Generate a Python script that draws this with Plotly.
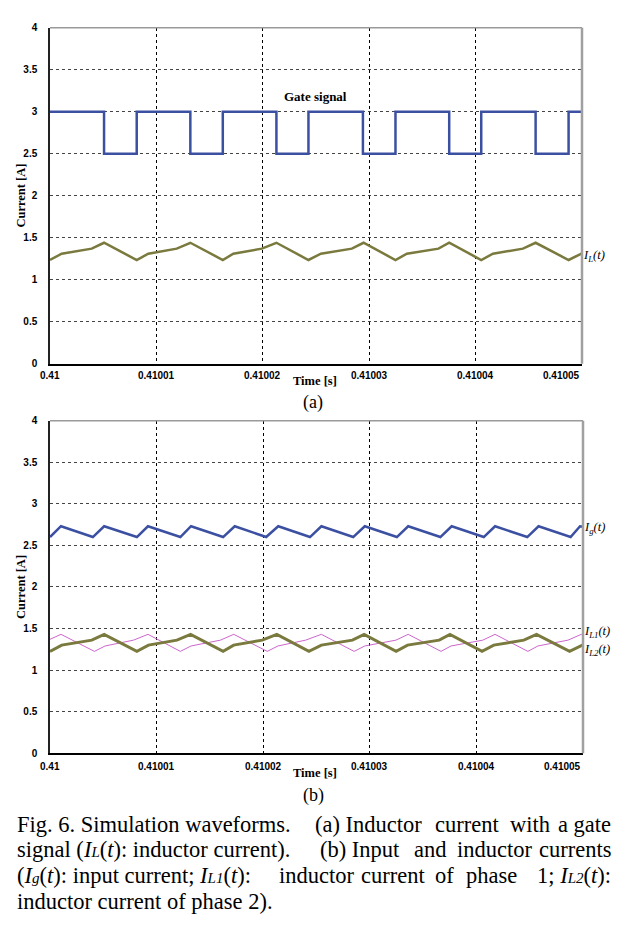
import plotly.graph_objects as go

# ---------------- data (time offsets in microseconds from 0.41 s) ----------------
gate_t_us = [0, 5.08, 8.15, 13.19, 16.24, 21.28, 24.29, 29.41, 32.47, 37.52, 40.53, 45.64, 48.74, 50.0]
gate_val = [3, 2.5, 3, 2.5, 3, 2.5, 3, 2.5, 3, 2.5, 3, 2.5, 3, 3]

il_t_us = [0, 1.10, 3.92, 5.08, 8.15, 9.24, 11.91, 13.19, 16.24, 17.23, 19.91, 21.28,
           24.29, 25.46, 28.37, 29.47, 32.47, 33.54, 36.51, 37.52, 40.53, 41.63, 44.45,
           45.64, 48.74, 49.85, 50.0]
il_top_val = [1.235, 1.31, 1.37, 1.44, 1.235, 1.31, 1.37, 1.44, 1.235, 1.31, 1.37, 1.44,
              1.235, 1.31, 1.37, 1.44, 1.235, 1.31, 1.37, 1.44, 1.235, 1.31, 1.37, 1.44,
              1.235, 1.31, 1.315]
il2_val = [1.225, 1.30, 1.36, 1.43, 1.225, 1.30, 1.36, 1.43, 1.225, 1.30, 1.36, 1.43,
           1.225, 1.30, 1.36, 1.43, 1.225, 1.30, 1.36, 1.43, 1.225, 1.30, 1.36, 1.43,
           1.225, 1.30, 1.305]

il1_t_us = [0, 1.03, 4.17, 5.17, 7.83, 9.19, 12.23, 13.23, 15.99, 17.24, 20.38, 21.38,
            23.98, 25.46, 28.53, 29.53, 32.45, 33.60, 36.68, 37.62, 40.60, 41.75, 44.83,
            45.77, 48.59, 49.84, 50.0]
il1_val = [1.37, 1.43, 1.225, 1.29, 1.36, 1.43, 1.225, 1.29, 1.36, 1.43, 1.225, 1.29,
           1.36, 1.43, 1.225, 1.29, 1.36, 1.43, 1.225, 1.29, 1.36, 1.43, 1.225, 1.29,
           1.36, 1.43, 1.42]

ig_t_us = [0, 1.03, 4.02, 5.08, 8.15, 9.19, 12.23, 13.23, 16.24, 17.33, 20.28, 21.41,
           24.39, 25.46, 28.44, 29.53, 32.54, 33.60, 36.62, 37.68, 40.69, 41.75, 44.77,
           45.83, 48.84, 49.72, 50.0]
ig_val = [2.60, 2.73, 2.60, 2.73, 2.60, 2.73, 2.60, 2.73, 2.60, 2.73, 2.60, 2.73,
          2.60, 2.73, 2.60, 2.73, 2.60, 2.73, 2.60, 2.73, 2.60, 2.73, 2.60, 2.73,
          2.60, 2.73, 2.725]

x_tick_vals = [0.41, 0.41001, 0.41002, 0.41003, 0.41004, 0.41005]
x_tick_text = ["0.41", "0.41001", "0.41002", "0.41003", "0.41004", "0.41005"]
y_tick_vals = [0, 0.5, 1, 1.5, 2, 2.5, 3, 3.5, 4]
y_tick_text = ["0", "0.5", "1", "1.5", "2", "2.5", "3", "3.5", "4"]

T0 = 0.41
def to_s(us):
    return [T0 + u * 1e-6 for u in us]

BLUE = "#3C50A2"
OLIVE = "#7A7A3E"
PINK = "#CC66CC"
SERIF = "Times New Roman, Liberation Serif, serif"
SANS = "Arial, Liberation Sans, sans-serif"

# page body has an 8px default margin: the figure starts at (8, 8) of the window
OFF = 8
W, H = 610, 921
def px(p):
    return (p - OFF) / W
def py(p):
    return 1 - (p - OFF) / H

fig = go.Figure()
fig.add_trace(go.Scatter(x=to_s(gate_t_us), y=gate_val, mode="lines", line=dict(color=BLUE, width=2.5, shape="hv"),
                         xaxis="x", yaxis="y", showlegend=False))
fig.add_trace(go.Scatter(x=to_s(il_t_us), y=il_top_val, mode="lines", line=dict(color=OLIVE, width=2.5),
                         xaxis="x", yaxis="y", showlegend=False))
fig.add_trace(go.Scatter(x=to_s(ig_t_us), y=ig_val, mode="lines", line=dict(color=BLUE, width=2.5),
                         xaxis="x2", yaxis="y2", showlegend=False))
fig.add_trace(go.Scatter(x=to_s(il1_t_us), y=il1_val, mode="lines", line=dict(color=PINK, width=1),
                         xaxis="x2", yaxis="y2", showlegend=False))
fig.add_trace(go.Scatter(x=to_s(il_t_us), y=il2_val, mode="lines", line=dict(color=OLIVE, width=3),
                         xaxis="x2", yaxis="y2", showlegend=False))

def xax(dom, anchor):
    return dict(domain=dom, anchor=anchor, range=[0.41, 0.41005], autorange=False,
                tickvals=x_tick_vals[1:-1], showticklabels=False, ticks="",
                showgrid=True, gridcolor="#000000", griddash="dot", gridwidth=1,
                showline=True, linecolor="#000000", linewidth=2, zeroline=False)

def yax(dom, anchor):
    return dict(domain=dom, anchor=anchor, range=[0, 4], autorange=False,
                tickvals=y_tick_vals, ticktext=y_tick_text, ticks="",
                tickfont=dict(family=SANS, size=10, color="#000000", weight="bold"),
                ticklabelstandoff=9,
                showgrid=True, gridcolor="#444444", griddash="dot", gridwidth=1,
                showline=True, linecolor="#222222", linewidth=1.5, zeroline=False)

fig.update_layout(
    width=W, height=H, autosize=False,
    margin=dict(l=0, r=0, t=0, b=0),
    paper_bgcolor="white", plot_bgcolor="white",
    xaxis=xax([px(50), px(582)], "y"),
    yaxis=yax([py(362.3), py(22)], "x"),
    xaxis2=xax([px(50), px(583)], "y2"),
    yaxis2=yax([py(757), py(420)], "x2"),
)

shapes = []
for xr, yr in (("x", "y"), ("x2", "y2")):
    shapes.append(dict(type="line", xref=xr + " domain", yref=yr + " domain", x0=0, x1=1, y0=1, y1=1,
                       line=dict(color="#9A9A9A", width=1.5)))
    shapes.append(dict(type="line", xref=xr + " domain", yref=yr + " domain", x0=1, x1=1, y0=0, y1=1,
                       line=dict(color="#A0A0A0", width=2.5)))
fig.update_layout(shapes=shapes)

ann = []
# x tick labels
for xr, ypix in (("x", 374), ("x2", 770)):
    for i, (v, t) in enumerate(zip(x_tick_vals, x_tick_text)):
        ann.append(dict(x=v, xref=xr, y=py(ypix), yref="paper", text=t, showarrow=False,
                        xanchor="right" if i == len(x_tick_vals) - 1 else "center", yanchor="middle",
                        font=dict(family=SANS, size=10, color="#000000", weight="bold")))
# axis titles
for ypix in (380, 777):
    ann.append(dict(x=px(315), xref="paper", y=py(ypix), yref="paper", text="<b>Time [s]</b>", showarrow=False,
                    xanchor="center", yanchor="middle", font=dict(family=SERIF, size=12.5, color="#000000")))
for ypix in (192, 588.5):
    ann.append(dict(x=px(21), xref="paper", y=py(ypix), yref="paper", text="<b>Current [A]</b>", showarrow=False,
                    textangle=-90, xanchor="center", yanchor="middle",
                    font=dict(family=SERIF, size=12.5, color="#000000")))
# series labels
ann.append(dict(x=px(315), xref="paper", y=py(92), yref="paper", text="<b>Gate signal</b>", showarrow=False,
                xanchor="center", yanchor="middle", font=dict(family=SERIF, size=13, color="#000000")))
lab_font = dict(family=SERIF, size=12.5, color="#000000")
ann.append(dict(x=px(581), xref="paper", y=1.28, yref="y", text="<i>I<sub>L</sub>(t)</i>", showarrow=False,
                xanchor="left", yanchor="middle", font=lab_font))
ann.append(dict(x=px(582), xref="paper", y=2.71, yref="y2", text="<i>I<sub>g</sub>(t)</i>", showarrow=False,
                xanchor="left", yanchor="middle", font=lab_font))
ann.append(dict(x=px(582), xref="paper", y=1.46, yref="y2", text="<i>I<sub>L1</sub>(t)</i>", showarrow=False,
                xanchor="left", yanchor="middle", font=lab_font))
ann.append(dict(x=px(582), xref="paper", y=1.24, yref="y2", text="<i>I<sub>L2</sub>(t)</i>", showarrow=False,
                xanchor="left", yanchor="middle", font=lab_font))
# panel labels
for txt, ypix in (("(a)", 402), ("(b)", 800)):
    ann.append(dict(x=px(313), xref="paper", y=py(ypix), yref="paper", text=txt, showarrow=False,
                    xanchor="center", yanchor="middle", font=dict(family=SERIF, size=18, color="#000000")))

# caption (justified look: several word groups per line, placed where they sit in the reference)
cap_font = dict(family=SERIF, size=22.5, color="#000000")
def sub(s):
    return "<span style='font-size:15px'>" + s + "</span>"
IL = "<i>I" + sub("L") + "</i>(<i>t</i>)"
IG = "<i>I" + sub("g") + "</i>(<i>t</i>)"
IL1 = "<i>I" + sub("L1") + "</i>(<i>t</i>)"
IL2 = "<i>I" + sub("L2") + "</i>(<i>t</i>)"
# each line: list of (text, left x) plus a final right-aligned segment
cap_lines = [
    ([("Fig. 6. Simulation waveforms.", 15), ("(a) Inductor", 313), ("current", 433), ("with", 508)],
     "a gate", 829),
    ([("signal (" + IL + ": inductor current).", 15), ("(b) Input", 318), ("and", 412), ("inductor", 455)],
     "currents", 855),
    ([("(" + IG + ": input current; " + IL1 + ":", 15), ("inductor", 277), ("current", 359),
      ("of", 433), ("phase", 464)],
     "1; " + IL2 + ":", 881),
    ([("inductor current of phase 2).", 15)], "", 907),
]
for segs, right, ypix in cap_lines:
    for txt, xl in segs:
        ann.append(dict(x=px(xl), xref="paper", y=py(ypix), yref="paper", text=txt, showarrow=False,
                        xanchor="left", yanchor="middle", font=cap_font))
    if right:
        ann.append(dict(x=px(613), xref="paper", y=py(ypix), yref="paper", text=right, showarrow=False,
                        xanchor="right", yanchor="middle", font=cap_font))
fig.update_layout(annotations=ann)

fig.write_html("out.html")
